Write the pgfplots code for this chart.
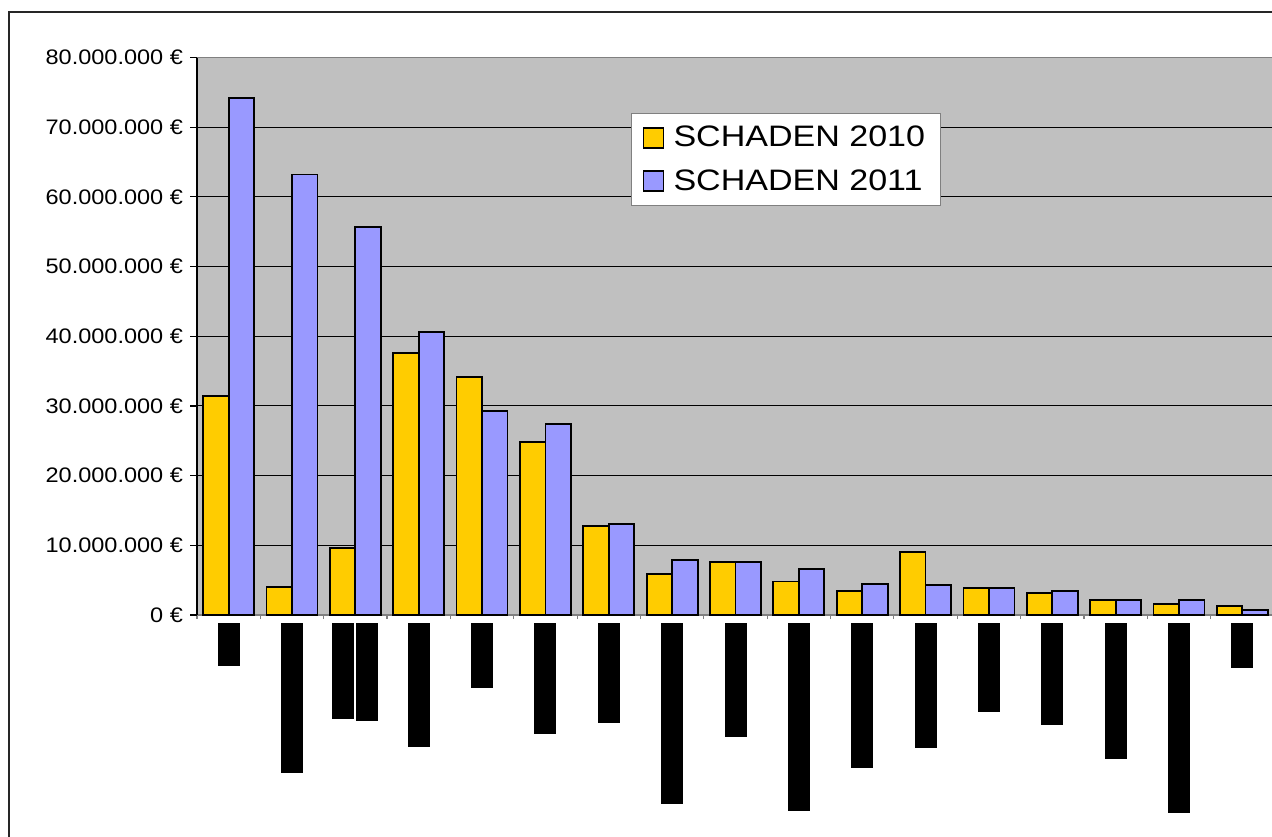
\documentclass[border=0pt]{standalone}
\usepackage{fontspec}
\setmainfont{Liberation Sans}
\newfontfamily\tickfont[FakeStretch=1.12]{Liberation Sans}
\newfontfamily\legfont[FakeStretch=1.15]{Liberation Sans}
\usepackage{pgfplots}
\pgfplotsset{compat=1.18}
\definecolor{plotgray}{HTML}{C0C0C0}
\definecolor{yel}{HTML}{FFCC00}
\definecolor{vio}{HTML}{9999FF}
\newcommand{\blk}[1]{\rule[-#1pt]{11pt}{#1pt}}
\begin{document}
\begin{tikzpicture}
\useasboundingbox (0,0) rectangle (636pt,418pt);
\draw[line width=0.9pt, black!85] (4.5pt,-20pt) rectangle (660pt,412pt);
\begin{axis}[
 at={(98.5pt,110.5pt)}, anchor=south west,
 scale only axis, width=538.5pt, height=278.75pt,
 xmin=-0.5, xmax=16.5, ymin=0, ymax=80, enlargelimits=false,
 ybar=0pt, bar width=12.75pt,
 axis background/.style={fill=plotgray},
 separate axis lines,
 x axis line style={draw=black!50, line width=0.8pt},
 y axis line style={draw=black, line width=0.8pt},
 ytick={0,10,...,80},
 yticklabels={0 €,10.000.000 €,20.000.000 €,30.000.000 €,40.000.000 €,50.000.000 €,60.000.000 €,70.000.000 €,80.000.000 €},
 ymajorgrids, major grid style={black, line width=0.5pt},
 tick align=outside, tick pos=left,
 major tick length=3.5pt, minor tick length=2pt,
 ytick style={black, line width=0.6pt},
 xtick={0,...,16},
 major x tick style={draw=none},
 minor xtick={-0.5,0.5,...,16.5},
 minor x tick style={draw=black!50, line width=0.6pt},
 xticklabels={\blk{21.5},\blk{74.75},{\blk{47.75}\hspace{1pt}\blk{48.75}},\blk{61.75},\blk{32.25},\blk{55.25},\blk{49.75},\blk{90.5},\blk{57},\blk{94},\blk{72.5},\blk{62.5},\blk{44.5},\blk{51},\blk{68},\blk{95},\blk{22.5}},
 xticklabel style={inner sep=0pt, anchor=north, yshift=-0.35pt},
 yticklabel style={font=\tickfont\fontsize{10.5}{12}\selectfont, black},
 legend style={at={(0.403,0.9)}, anchor=north west, draw=black!50, fill=white, line width=0.6pt,
   font=\legfont\fontsize{14.8}{17}\selectfont, row sep=6pt, inner xsep=5.5pt, inner ysep=4pt},
 legend cell align=left,
 legend image code/.code={\draw[#1] (0pt,-5pt) rectangle (10pt,5pt); \path[draw=none,fill=none] (0pt,0pt) -- (13pt,0pt);},
]
\addplot[fill=yel, draw=black, line width=0.9pt] coordinates {
(0,31.45) (1,4.0) (2,9.6) (3,37.6) (4,34.2) (5,24.8) (6,12.8) (7,5.85) (8,7.66) (9,4.8) (10,3.45) (11,9.05) (12,3.93) (13,3.16) (14,2.1) (15,1.63) (16,1.34)};
\addplot[fill=vio, draw=black, line width=0.9pt] coordinates {
(0,74.2) (1,63.2) (2,55.7) (3,40.6) (4,29.3) (5,27.4) (6,13.1) (7,7.95) (8,7.66) (9,6.65) (10,4.5) (11,4.26) (12,3.93) (13,3.45) (14,2.1) (15,2.15) (16,0.77)};
\legend{SCHADEN 2010, SCHADEN 2011}
\end{axis}
\end{tikzpicture}
\end{document}
